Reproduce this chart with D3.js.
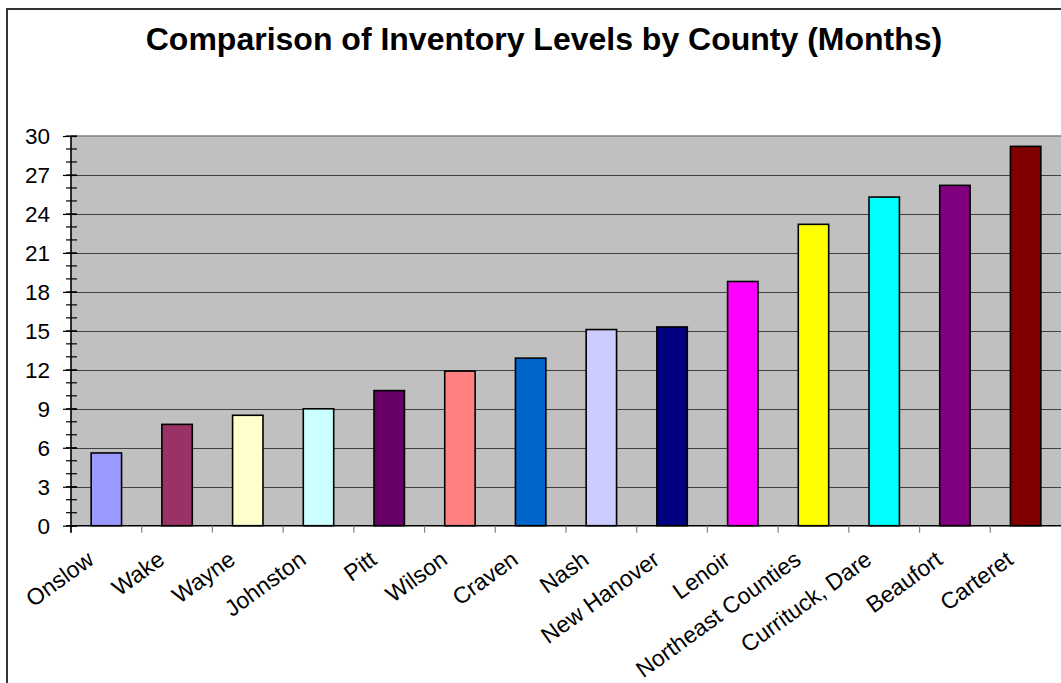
<!DOCTYPE html>
<html><head><meta charset="utf-8">
<script src="https://cdnjs.cloudflare.com/ajax/libs/d3/7.8.5/d3.min.js"></script>
<style>html,body{margin:0;padding:0;background:#fff;overflow:hidden}</style>
</head><body>
<svg id="chart" width="1061" height="683"></svg>
<script>
const categories = ["Onslow","Wake","Wayne","Johnston","Pitt","Wilson","Craven","Nash","New Hanover","Lenoir","Northeast Counties","Currituck, Dare","Beaufort","Carteret"];
const values = [5.6, 7.8, 8.5, 9.0, 10.4, 11.9, 12.9, 15.1, 15.3, 18.8, 23.2, 25.3, 26.2, 29.2];
const barColors = ["#9999FF","#993366","#FFFFCC","#CCFFFF","#660066","#FF8080","#0066CC","#CCCCFF","#000080","#FF00FF","#FFFF00","#00FFFF","#800080","#800000"];
const yTicks = [0,3,6,9,12,15,18,21,24,27,30];
const title = "Comparison of Inventory Levels by County (Months)";

const svg = d3.select("#chart");
const L = 71, R = 1061, T = 136, B = 525.7;
const font = "Arial, 'Liberation Sans', sans-serif";

// outer chart border
svg.append("rect").attr("x",7).attr("y",9).attr("width",1080).attr("height",700)
  .attr("fill","#fff").attr("stroke","#333").attr("stroke-width",2);

svg.append("text").attr("x",544).attr("y",50).attr("text-anchor","middle")
  .attr("font-family",font).attr("font-weight","bold").attr("font-size",32)
  .attr("fill","#000").text(title);

const x = d3.scaleBand().domain(categories).range([L,R]).padding(0);
const y = d3.scaleLinear().domain([0,30]).range([B,T]);

svg.append("rect").attr("x",L).attr("y",T).attr("width",R-L).attr("height",B-T)
  .attr("fill","#C0C0C0");
svg.append("line").attr("x1",L).attr("x2",R).attr("y1",T).attr("y2",T)
  .attr("stroke","#808080").attr("stroke-width",1.5);

// gridlines
svg.append("g").selectAll("line").data(yTicks.filter(d=>d>0 && d<30)).join("line")
  .attr("x1",L).attr("x2",R).attr("y1",d=>Math.round(y(d))+0.5).attr("y2",d=>Math.round(y(d))+0.5)
  .attr("stroke","#404040").attr("stroke-width",1);

// bars
const bw = x.bandwidth()*0.43;
svg.append("g").selectAll("rect").data(values).join("rect")
  .attr("x",(d,i)=>x(categories[i])+x.bandwidth()/2-bw/2)
  .attr("y",d=>y(d))
  .attr("width",bw)
  .attr("height",d=>B-y(d))
  .attr("fill",(d,i)=>barColors[i])
  .attr("stroke","#000").attr("stroke-width",1.6);

// x axis
const xAxis = svg.append("g");
xAxis.append("line").attr("x1",L).attr("x2",R).attr("y1",B).attr("y2",B)
  .attr("stroke","#000").attr("stroke-width",1.5);
xAxis.selectAll("line.tk").data(categories).join("line").attr("class","tk")
  .attr("x1",d=>x(d)).attr("x2",d=>x(d)).attr("y1",B).attr("y2",B+7)
  .attr("stroke","#808080").attr("stroke-width",1.2);
xAxis.selectAll("text").data(categories).join("text")
  .attr("transform",d=>`translate(${x(d)+x.bandwidth()/2-11},${B+37}) rotate(-36)`)
  .attr("text-anchor","end")
  .attr("font-family",font).attr("font-size",23).attr("fill","#000")
  .text(d=>d);

// y axis
const yAxisG = svg.append("g").attr("transform",`translate(${L},0)`);
const minor = d3.range(0,31,1);
yAxisG.selectAll("line.mn").data(minor).join("line").attr("class","mn")
  .attr("x1",-5).attr("x2",6).attr("y1",d=>y(d)).attr("y2",d=>y(d))
  .attr("stroke","#000").attr("stroke-width",1.2);
yAxisG.call(d3.axisLeft(y).tickValues(yTicks).tickSizeInner(8).tickSizeOuter(0).tickPadding(13))
  .call(g=>g.select(".domain").remove())
  .call(g=>g.selectAll(".tick line").attr("x2",6).attr("x1",-8).attr("stroke","#000").attr("stroke-width",1.2))
  .call(g=>g.selectAll(".tick text").attr("font-family",font).attr("font-size",22.5).attr("fill","#000").attr("dy","0.35em"));
yAxisG.append("line").attr("x1",0).attr("x2",0).attr("y1",T).attr("y2",B+7)
  .attr("stroke","#000").attr("stroke-width",1.6);
</script>
</body></html>
